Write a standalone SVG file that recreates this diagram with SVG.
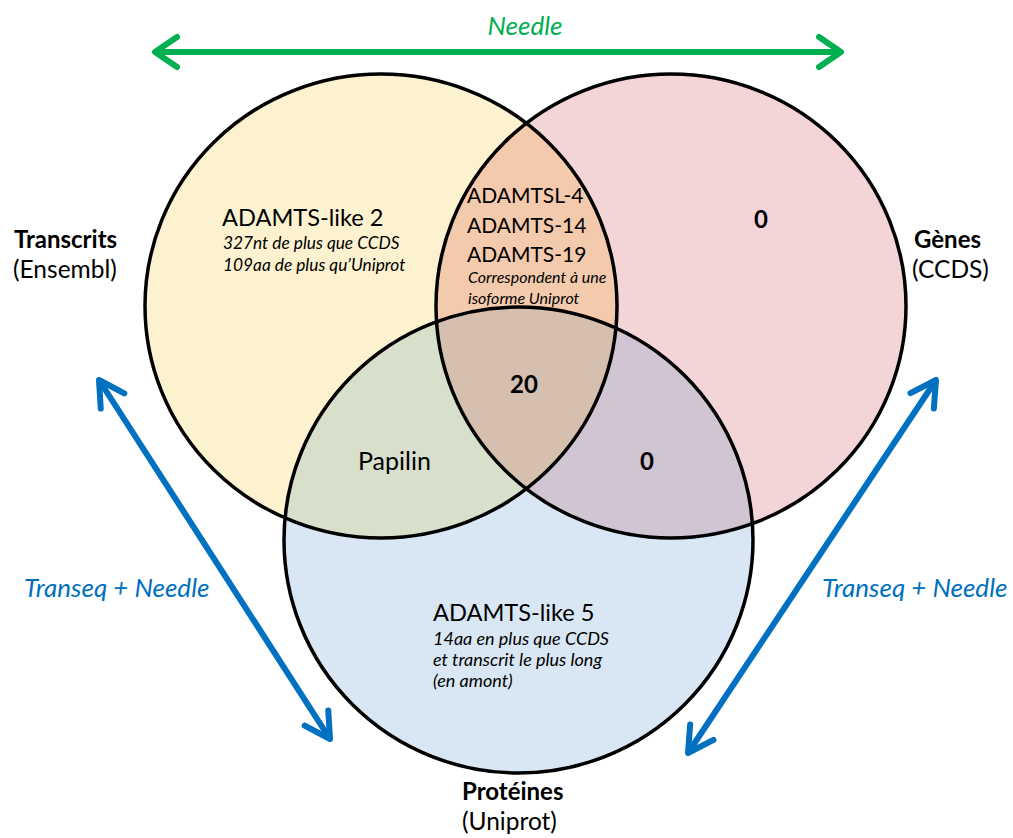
<svg xmlns="http://www.w3.org/2000/svg" width="1013" height="838" viewBox="0 0 1013 838">
<style>
.t{font-family:Lato,"Liberation Sans",sans-serif;fill:#000}
.lg{font-size:23.6px}
.md{font-size:21px}
.it{font-size:17.3px;font-style:italic}
.it2{font-size:16px;font-style:italic}
.it3{font-size:18px;font-style:italic}
.b{font-size:24px;font-weight:bold}
.rg{font-size:24.5px}
.ring{fill:none;stroke:#000;stroke-width:3.5}
.gl{font-family:Lato,"Liberation Sans",sans-serif;font-style:italic;font-size:26px}
.arrG{fill:none;stroke:#00B050;stroke-width:6}
.arrB{fill:none;stroke:#0070C0;stroke-width:6}
</style>
<defs>
<clipPath id="cY"><ellipse cx="381" cy="306" rx="236" ry="232"/></clipPath>
<clipPath id="cP"><ellipse cx="671" cy="306" rx="235" ry="232"/></clipPath>
<marker id="hG" markerUnits="userSpaceOnUse" markerWidth="40" markerHeight="40" viewBox="-30 -20 40 40" refX="0" refY="0" orient="auto-start-reverse" overflow="visible"><path d="M-22,-15 L0,0 L-22,15" fill="none" stroke="#00B050" stroke-width="6" stroke-linecap="round" stroke-linejoin="round"/></marker>
<marker id="hB" markerUnits="userSpaceOnUse" markerWidth="40" markerHeight="40" viewBox="-30 -20 40 40" refX="0" refY="0" orient="auto-start-reverse" overflow="visible"><path d="M-25,-14 L0,0 L-25,14" fill="none" stroke="#0070C0" stroke-width="6" stroke-linecap="round" stroke-linejoin="round"/></marker>
</defs>
<rect width="1013" height="838" fill="#fff"/>
<g id="fills">
<ellipse cx="381" cy="306" rx="236" ry="232" fill="#FDF2CF"/>
<ellipse cx="671" cy="306" rx="235" ry="232" fill="#F3D5D7"/>
<ellipse cx="518.5" cy="540" rx="234.5" ry="233" fill="#D9E7F4"/>
<ellipse cx="671" cy="306" rx="235" ry="232" fill="#F4CAAC" clip-path="url(#cY)"/>
<ellipse cx="518.5" cy="540" rx="234.5" ry="233" fill="#D8DFCB" clip-path="url(#cY)"/>
<ellipse cx="518.5" cy="540" rx="234.5" ry="233" fill="#D1C4D3" clip-path="url(#cP)"/>
<g clip-path="url(#cY)"><ellipse cx="518.5" cy="540" rx="234.5" ry="233" fill="#D5BFAE" clip-path="url(#cP)"/></g>
</g>
<g id="node-transcrits">
<ellipse class="ring" cx="381" cy="306" rx="236" ry="232"/>
<text class="t b" x="14" y="248">Transcrits</text>
<text class="t rg" x="13" y="278">(Ensembl)</text>
<text class="t lg" x="222" y="226">ADAMTS-like 2</text>
<text class="t it" x="223" y="249">327nt de plus que CCDS</text>
<text class="t it" x="223" y="271">109aa de plus qu’Uniprot</text>
</g>
<g id="node-genes">
<ellipse class="ring" cx="671" cy="306" rx="235" ry="232"/>
<text class="t b" x="914" y="248">Gènes</text>
<text class="t rg" x="912" y="278">(CCDS)</text>
<text class="t b" x="761" y="228" text-anchor="middle">0</text>
</g>
<g id="node-proteines">
<ellipse class="ring" cx="518.5" cy="540" rx="234.5" ry="233"/>
<text class="t b" x="462" y="800">Protéines</text>
<text class="t rg" x="462" y="830">(Uniprot)</text>
<text class="t lg" x="433" y="621">ADAMTS-like 5</text>
<text class="t it3" x="433" y="645">14aa en plus que CCDS</text>
<text class="t it3" x="433" y="666">et transcrit le plus long</text>
<text class="t it3" x="433" y="687">(en amont)</text>
</g>
<g id="node-transcrits-genes">
<text class="t md" x="467" y="203">ADAMTSL-4</text>
<text class="t md" x="467" y="233">ADAMTS-14</text>
<text class="t md" x="467" y="262">ADAMTS-19</text>
<text class="t it2" x="468" y="283">Correspondent à une</text>
<text class="t it2" x="468" y="304">isoforme Uniprot</text>
</g>
<g id="node-all">
<text class="t b" x="524" y="393" text-anchor="middle">20</text>
</g>
<g id="node-transcrits-proteines">
<text class="t" x="358" y="470" font-size="25px">Papilin</text>
</g>
<g id="node-genes-proteines">
<text class="t b" x="647" y="470" text-anchor="middle">0</text>
</g>
<g id="connectors">
<line class="arrG" x1="155" y1="52" x2="841" y2="52" marker-start="url(#hG)" marker-end="url(#hG)"/>
<text class="gl" x="525" y="35" text-anchor="middle" fill="#00B050">Needle</text>
<line class="arrB" x1="99" y1="380" x2="330" y2="739" marker-start="url(#hB)" marker-end="url(#hB)"/>
<text class="gl" x="24" y="597" fill="#0070C0">Transeq + Needle</text>
<line class="arrB" x1="936" y1="380" x2="688" y2="753" marker-start="url(#hB)" marker-end="url(#hB)"/>
<text class="gl" x="822" y="597" fill="#0070C0">Transeq + Needle</text>
</g>
</svg>
